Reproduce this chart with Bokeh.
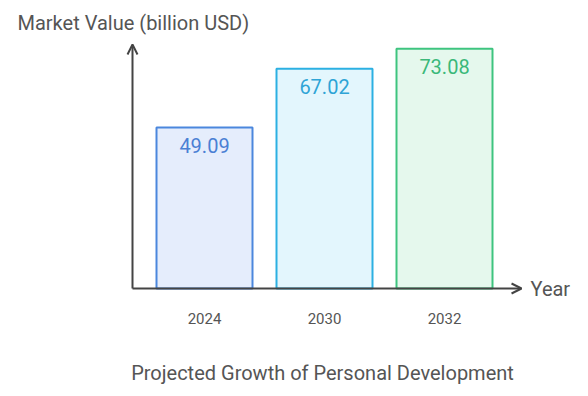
from bokeh.plotting import figure
from bokeh.models import ColumnDataSource, Label, Arrow, OpenHead, Range1d
from bokeh.core.properties import value
from bokeh.embed import file_html
from bokeh.resources import INLINE

years = ["2024", "2030", "2032"]
values = [49.09, 67.02, 73.08]
value_labels = ["49.09", "67.02", "73.08"]
fills = ["#e5edfc", "#e3f6fd", "#e5f8ed"]
lines = ["#4b87dd", "#2cb0e2", "#3ec47f"]
text_colors = ["#4a80d4", "#2ea4d6", "#3bb87a"]

W, H = 584, 392
PX_PER_UNIT = 3.28
BAR_STEP = 120
Y0_FROM_TOP = 288
Y0_FROM_BOTTOM = H - Y0_FROM_TOP
X0_FROM_LEFT = 204

p = figure(width=W, height=H, output_backend="svg", toolbar_location=None,
           min_border=0, min_border_left=0, min_border_right=0,
           min_border_top=0, min_border_bottom=0)
p.x_range = Range1d(-X0_FROM_LEFT / BAR_STEP, (W - X0_FROM_LEFT) / BAR_STEP)
p.y_range = Range1d(-Y0_FROM_BOTTOM / PX_PER_UNIT, (H - Y0_FROM_BOTTOM) / PX_PER_UNIT)
p.axis.visible = False
p.grid.visible = False
p.outline_line_color = None
p.background_fill_color = "white"
p.border_fill_color = "white"

xs = list(range(len(years)))
src = ColumnDataSource(dict(x=xs, top=values, fill=fills, line=lines,
                            tc=text_colors, lab=value_labels, yr=years,
                            zero=[0] * len(years)))

p.vbar(x="x", top="top", bottom=0, width=0.8, fill_color="fill",
       line_color="line", line_width=2, source=src)

p.text(x="x", y="top", text="lab", text_color="tc", text_align="center",
       text_baseline="middle", y_offset=18, text_font=value("Roboto"),
       text_font_size="20px", source=src)

p.text(x="x", y="zero", text="yr", text_color="#555555", text_align="center",
       text_baseline="middle", y_offset=30, text_font=value("Roboto"),
       text_font_size="15px", source=src)

axis_color = "#444444"
x_axis_start = -0.6
p.add_layout(Arrow(end=OpenHead(size=10, line_color=axis_color, line_width=2),
                   x_start=x_axis_start, y_start=0, x_end=x_axis_start, y_end=74.4,
                   line_color=axis_color, line_width=2))
p.add_layout(Arrow(end=OpenHead(size=10, line_color=axis_color, line_width=2),
                   x_start=x_axis_start, y_start=0, x_end=2.642, y_end=0,
                   line_color=axis_color, line_width=2))

p.add_layout(Label(x=17, y=H - 22, x_units="screen", y_units="screen",
                   text="Market Value (billion USD)", text_font="Roboto",
                   text_font_size="20px", text_color="#555555",
                   text_baseline="middle", text_align="left"))
p.add_layout(Label(x=530, y=Y0_FROM_BOTTOM, x_units="screen", y_units="screen",
                   text="Year", text_font="Roboto",
                   text_font_size="20px", text_color="#555555",
                   text_baseline="middle", text_align="left"))
p.add_layout(Label(x=322, y=H - 372, x_units="screen", y_units="screen",
                   text="Projected Growth of Personal Development", text_font="Roboto",
                   text_font_size="20px", text_color="#555555",
                   text_baseline="middle", text_align="center"))

open("out.html", "w").write(file_html(p, INLINE))
